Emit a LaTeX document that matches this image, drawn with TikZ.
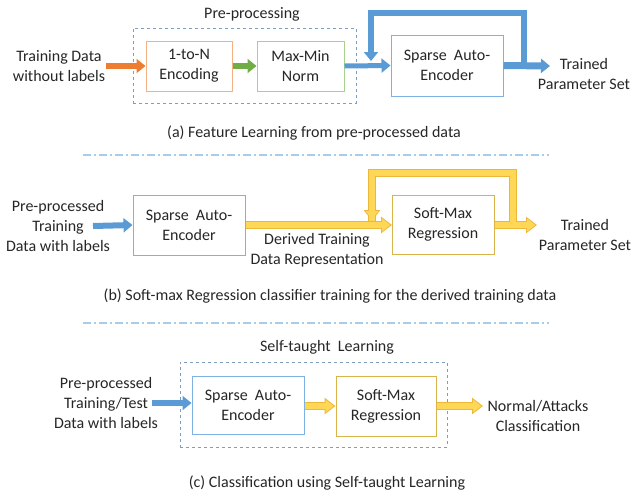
\documentclass[tikz,border=0pt]{standalone}
\usepackage{fontspec}
\setmainfont{Carlito}
\usetikzlibrary{arrows.meta}
\definecolor{txt}{HTML}{262626}
\definecolor{orA}{HTML}{ED7D31}
\definecolor{orB}{HTML}{F4B183}
\definecolor{grA}{HTML}{70AD47}
\definecolor{grB}{HTML}{A9D18E}
\definecolor{blA}{HTML}{5B9BD5}
\definecolor{blB}{HTML}{7DB2E3}
\definecolor{dashc}{HTML}{7F9DBE}
\definecolor{sepc}{HTML}{A7CBEB}
\definecolor{yeA}{HTML}{FFD757}
\definecolor{yeB}{HTML}{EDB83A}
\definecolor{yeC}{HTML}{D9B44A}
\tikzset{
  lbl/.style={text=txt, align=center, font=\fontsize{16}{20}\selectfont, inner sep=0pt},
  box/.style={lbl, draw, line width=1pt, fill=white},
  dbox/.style={draw=dashc, dashed, line width=0.9pt, inner sep=0pt},
  thickarr/.style={line width=#1, -{Triangle[length=9pt,width=14pt]}},
  thickarr/.default=6pt,
  yeout/.style={line width=7.6pt, yeB, -{Triangle[length=11pt,width=16pt]}},
  yein/.style={line width=5.2pt, yeA, -{Triangle[length=8.3pt,width=12.4pt]}, shorten >=1.7pt},
  yeoutline/.style={line width=7.6pt, yeB},
  yeinline/.style={line width=5.2pt, yeA},
  seprule/.style={draw=sepc, line width=1.4pt, dash pattern=on 8pt off 3pt on 2pt off 3pt},
}
\begin{document}
\begin{tikzpicture}[x=1pt,y=-1pt]
\useasboundingbox (0,0) rectangle (631,496);
% ---------------- (a)
\node[lbl] (titleA) at (252,14) {Pre-processing};
\node[dbox, minimum width=223pt, minimum height=75pt] (preA) at (244.5,65.5) {};
\node[lbl] (inA) at (59,66) {Training Data\\without labels};
\node[box, draw=orB, minimum width=86pt, minimum height=50pt] (enc) at (189,66) {1-to-N\\Encoding};
\node[box, draw=grB, minimum width=87pt, minimum height=50pt] (mm) at (300.5,66) {Max-Min\\Norm};
\node[box, draw=blB, minimum width=112pt, minimum height=61pt] (saeA) at (447,65.5) {Sparse\ \ Auto-\\Encoder};
\node[lbl] (outA) at (584,74) {Trained\\Parameter Set};
\coordinate (inAe) at (106,66);
\coordinate (tipA) at (550,66);
\coordinate (brA) at (524,66);
\coordinate (topA) at (371,13);
\coordinate (dropA) at (371,61);
\draw[thickarr, orA] (inAe) -- (enc.west);
\draw[thickarr, grA] (enc.east) -- (mm.west);
\draw[thickarr=5pt, blA] (mm.east) -- (saeA.west);
\draw[thickarr=7pt, blA] (saeA.east) -- (tipA);
\draw[line width=6pt, blA, -{Triangle[length=9pt,width=14pt]}] (brA) -- (brA |- topA) -- (topA) -- (dropA);
\node[lbl] (capA) at (314,133) {(a) Feature Learning from pre-processed data};
\node[inner sep=0pt] (sepL1) at (82,155) {};
\node[inner sep=0pt] (sepR1) at (550,155) {};
\draw[seprule] (sepL1) -- (sepR1);
% ---------------- (b)
\node[lbl] (inB) at (58,226) {Pre-processed\\Training\\Data with labels};
\node[lbl] (derB) at (317,250) {Derived Training\\Data Representation};
\node[lbl] (outB) at (585,235) {Trained\\Parameter Set};
\coordinate (inBe) at (93,226);
\coordinate (tipB) at (537,225);
\coordinate (brB) at (513,225);
\coordinate (topB) at (372,173);
\coordinate (dropB) at (372,221);
\coordinate (saeBe) at (245,225);
\coordinate (smBw) at (392,225);
\coordinate (smBe) at (494,225);
% outlines first
\draw[yeoutline] (brB) -- (brB |- topB) -- (topB) -- (dropB);
\draw[yeout] (saeBe) -- (smBw);
\draw[yeout] (smBe) -- (tipB);
\draw[yeout] (topB) -- (dropB);
% fills
\draw[yeinline] (brB) -- (brB |- topB) -- (topB) -- (dropB);
\draw[yein] (saeBe) -- (smBw);
\draw[yein] (smBe) -- (tipB);
\draw[yein] (topB) -- (dropB);
\node[box, draw=blB, minimum width=112pt, minimum height=60pt] (saeB) at (189,225) {Sparse\ \ Auto-\\Encoder};
\node[box, draw=yeC, minimum width=102pt, minimum height=59pt] (smB) at (443,224.5) {Soft-Max\\Regression};
\draw[thickarr=6pt, blA] (inBe) -- (saeB.west);
\node[lbl] (capB) at (330,296) {(b) Soft-max Regression classifier training for the derived training data};
\node[inner sep=0pt] (sepL2) at (82,323) {};
\node[inner sep=0pt] (sepR2) at (550,323) {};
\draw[seprule] (sepL2) -- (sepR2);
% ---------------- (c)
\node[lbl] (titleC) at (327,347) {Self-taught\ \ Learning};
\node[dbox, minimum width=267pt, minimum height=85pt] (stC) at (313.5,404.5) {};
\node[lbl] (inC) at (106,403) {Pre-processed\\Training/Test\\Data with labels};
\node[box, draw=blB, minimum width=112pt, minimum height=58pt] (saeC) at (248,405) {Sparse\ \ Auto-\\Encoder};
\node[box, draw=yeC, minimum width=100pt, minimum height=60pt] (smC) at (386,406) {Soft-Max\\Regression};
\node[lbl] (outC) at (538,416) {Normal/Attacks\\Classification};
\coordinate (inCe) at (152,403);
\coordinate (tipC) at (483,406);
\draw[thickarr=6pt, blA] (inCe) -- (saeC.west |- inCe);
\draw[yeout] (saeC.east |- smC.west) -- (smC.west);
\draw[yein] (saeC.east |- smC.west) -- (smC.west);
\draw[yeout] (smC.east) -- (tipC);
\draw[yein] (smC.east) -- (tipC);
\node[lbl] (capC) at (327,483) {(c) Classification using Self-taught Learning};
\end{tikzpicture}
\end{document}
